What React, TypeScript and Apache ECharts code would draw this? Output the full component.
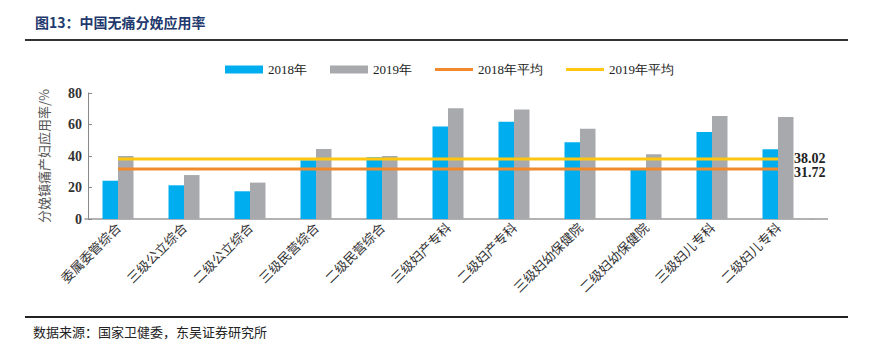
import React, { useEffect, useRef } from "react";
import * as echarts from "echarts";

const categories = [
  "委属委管综合",
  "三级公立综合",
  "二级公立综合",
  "三级民营综合",
  "二级民营综合",
  "三级妇产专科",
  "二级妇产专科",
  "三级妇幼保健院",
  "二级妇幼保健院",
  "三级妇儿专科",
  "二级妇儿专科",
];
const values2018 = [24.3, 21.4, 17.6, 37.3, 39.2, 58.8, 61.8, 48.7, 31.5, 55.2, 44.3];
const values2019 = [40.0, 27.9, 23.1, 44.4, 40.0, 70.3, 69.6, 57.3, 41.1, 65.4, 64.8];
const avg2018 = 31.72;
const avg2019 = 38.02;
const yTicks = { min: 0, max: 80, interval: 20 };

const serif = "'Liberation Serif', 'DejaVu Serif', serif";
const cjk = "'Noto Sans CJK SC', sans-serif";

export default function App() {
  const ref = useRef<HTMLDivElement>(null);
  useEffect(() => {
    if (!ref.current) return;
    const chart = echarts.init(ref.current, undefined, { renderer: "svg" });
    const n = categories.length;
    chart.setOption({
      animation: false,
      backgroundColor: "#ffffff",
      textStyle: { fontFamily: serif },
      legend: {
        left: 220,
        top: 58,
        itemWidth: 38,
        itemHeight: 8,
        itemGap: 23,
        textStyle: { fontFamily: serif, fontSize: 13, color: "#222" },
        data: [
          { name: "2018年", icon: "rect" },
          { name: "2019年", icon: "rect" },
          { name: "2018年平均", icon: "path://M0,0 H38 V3 H0 Z" },
          { name: "2019年平均", icon: "path://M0,0 H38 V3 H0 Z" },
        ],
      },
      grid: { left: 85, width: 726, top: 93, height: 126, containLabel: false },
      xAxis: {
        type: "category",
        data: categories,
        axisLine: { lineStyle: { color: "#999", width: 1.5 } },
        axisTick: { show: false },
        axisLabel: {
          rotate: 45,
          interval: 0,
          margin: 6,
          fontFamily: cjk,
          fontSize: 13,
          color: "#333",
        },
      },
      yAxis: {
        type: "value",
        min: yTicks.min,
        max: yTicks.max,
        interval: yTicks.interval,
        offset: -3,
        name: "分娩镇痛产妇应用率/%",
        nameLocation: "middle",
        nameRotate: 90,
        nameGap: 38,
        nameTextStyle: { fontFamily: cjk, fontSize: 13, color: "#555" },
        axisLine: { show: true, lineStyle: { color: "#888", width: 1 } },
        axisTick: { show: true, inside: true, length: 4, lineStyle: { color: "#888" } },
        splitLine: { show: false },
        axisLabel: { fontFamily: serif, fontSize: 14, color: "#333", fontWeight: "bold", margin: 6 },
      },
      series: [
        {
          name: "2018年",
          type: "bar",
          data: values2018,
          barWidth: 15.5,
          barGap: "0%",
          itemStyle: { color: "#00AEEF" },
        },
        {
          name: "2019年",
          type: "bar",
          data: values2019,
          barWidth: 15.5,
          barGap: "0%",
          itemStyle: { color: "#A7A9AC" },
        },
        {
          name: "2018年平均",
          type: "line",
          data: new Array(n).fill(avg2018),
          showSymbol: false,
          symbol: "none",
          z: 5,
          lineStyle: { color: "#F08A2C", width: 3 },
          itemStyle: { color: "#F08A2C" },
          endLabel: {
            show: true,
            distance: 16,
            offset: [0, 3],
            formatter: () => avg2018.toFixed(2),
            fontFamily: serif,
            fontSize: 14,
            fontWeight: "bold",
            color: "#222",
          },
        },
        {
          name: "2019年平均",
          type: "line",
          data: new Array(n).fill(avg2019),
          showSymbol: false,
          symbol: "none",
          z: 5,
          lineStyle: { color: "#FFC612", width: 3 },
          itemStyle: { color: "#FFC612" },
          endLabel: {
            show: true,
            distance: 16,
            offset: [0, -1],
            formatter: () => avg2019.toFixed(2),
            fontFamily: serif,
            fontSize: 14,
            fontWeight: "bold",
            color: "#222",
          },
        },
      ],
      graphic: [
        {
          type: "text",
          left: 35,
          top: 15,
          style: {
            text: "图13：中国无痛分娩应用率",
            fontFamily: cjk,
            fontSize: 14,
            fontWeight: "bold",
            fill: "#1F3A6E",
          },
        },
        {
          type: "line",
          shape: { x1: 25, y1: 40, x2: 848, y2: 40 },
          style: { stroke: "#333", lineWidth: 2 },
        },
        {
          type: "line",
          shape: { x1: 811, y1: 219, x2: 828, y2: 219 },
          style: { stroke: "#999", lineWidth: 1.5 },
        },
        {
          type: "line",
          shape: { x1: 25, y1: 317, x2: 848, y2: 317 },
          style: { stroke: "#222", lineWidth: 2 },
        },
        {
          type: "text",
          left: 33,
          top: 325,
          style: {
            text: "数据来源：国家卫健委，东吴证券研究所",
            fontFamily: cjk,
            fontSize: 13,
            fill: "#222",
          },
        },
      ],
    });
    return () => chart.dispose();
  }, []);
  return (
    <div
      ref={ref}
      style={{ position: "fixed", left: 0, top: 0, width: 878, height: 343 }}
    />
  );
}
